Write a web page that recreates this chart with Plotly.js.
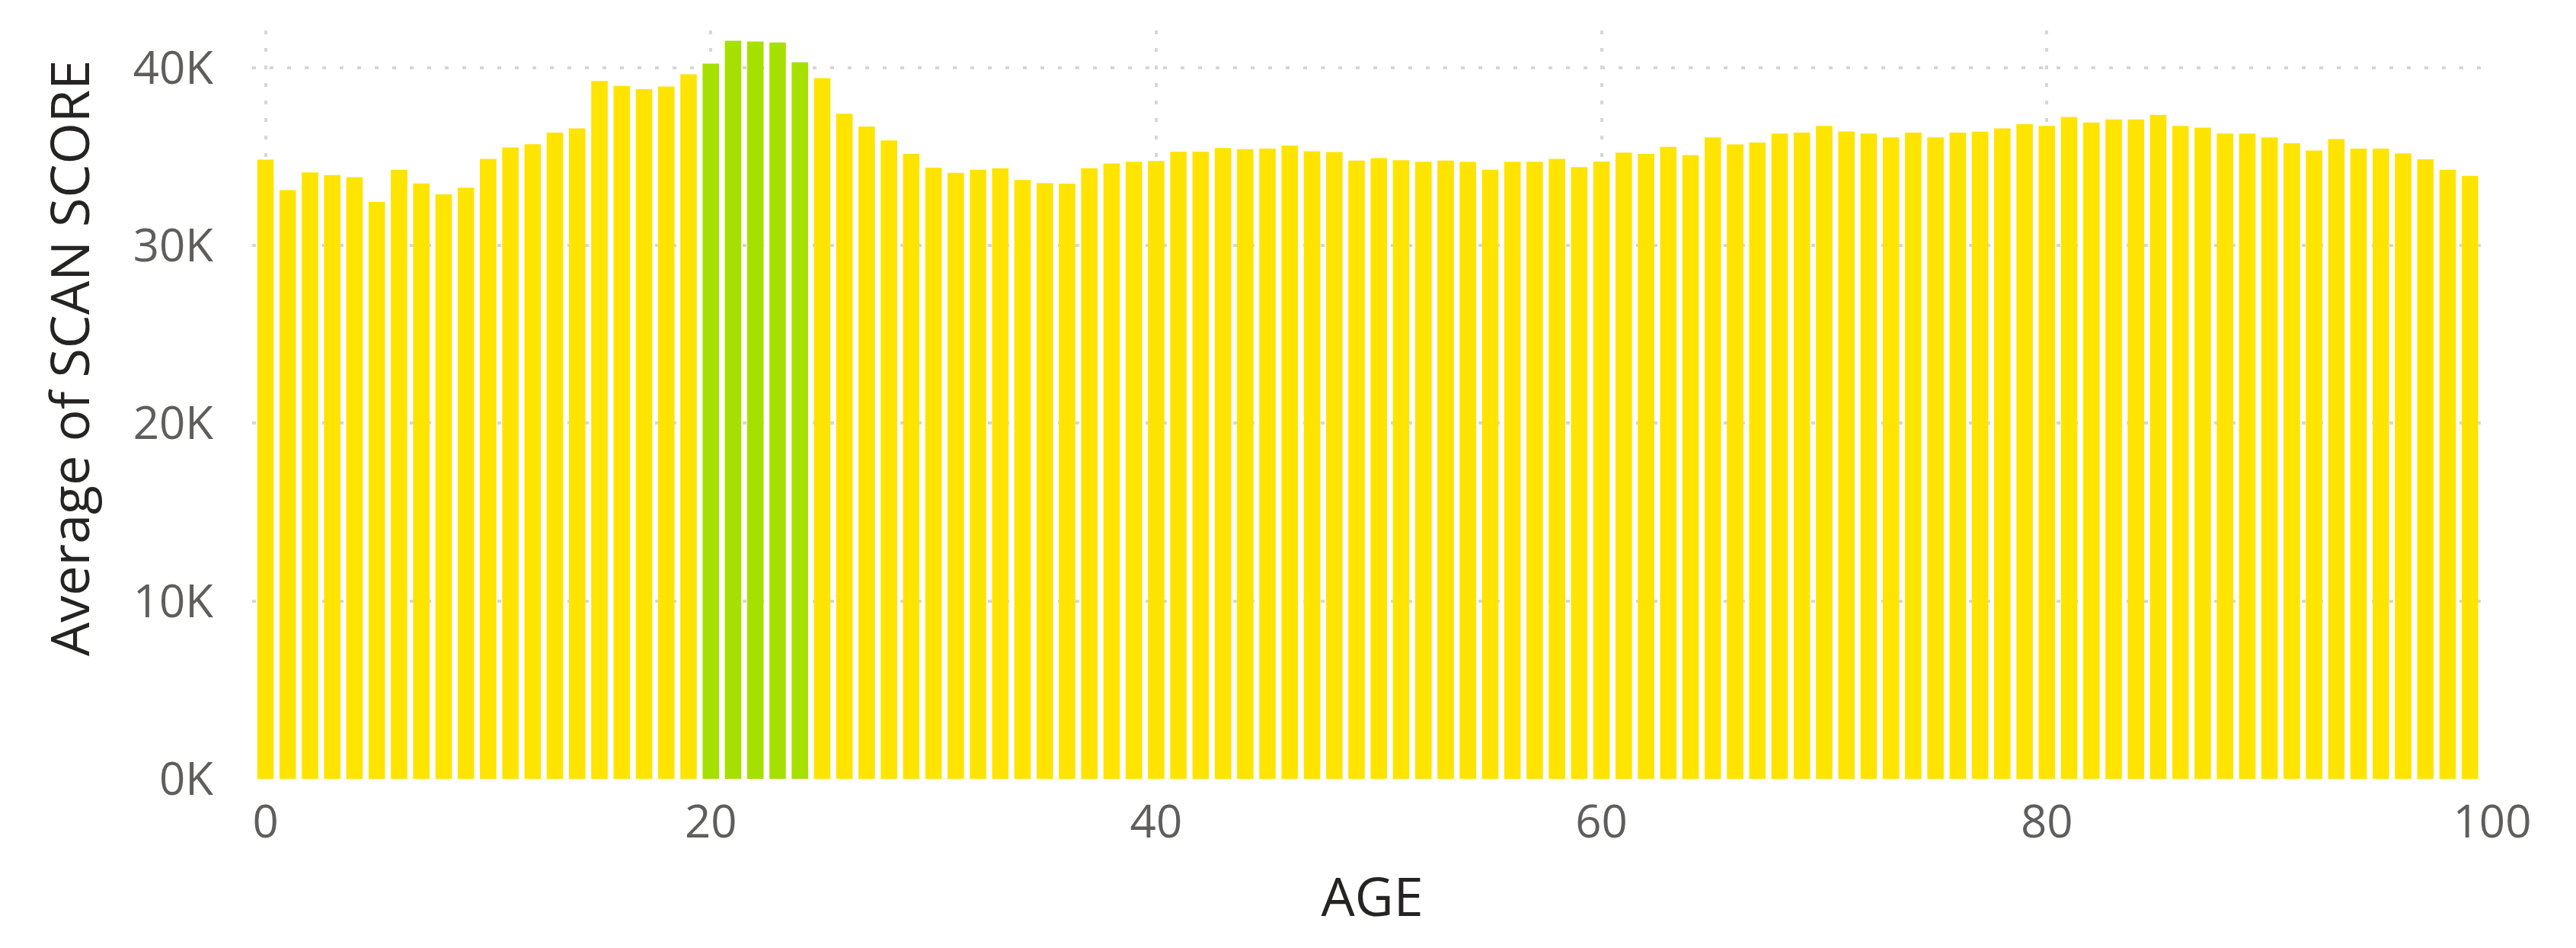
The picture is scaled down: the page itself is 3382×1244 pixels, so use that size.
<!DOCTYPE html>
<html>
<head>
<meta charset="utf-8">
<script src="https://cdn.plot.ly/plotly-3.0.1.min.js"></script>
<style>
  html, body { margin: 0; padding: 0; background: #ffffff; }
  #chart { width: 3382px; height: 1244px; }
</style>
</head>
<body>
<div id="chart"></div>
<script>
// ages 0..99 and the average scan score
const ages = [
   0,  1,  2,  3,  4,  5,  6,  7,  8,  9,
  10, 11, 12, 13, 14, 15, 16, 17, 18, 19,
  20, 21, 22, 23, 24, 25, 26, 27, 28, 29,
  30, 31, 32, 33, 34, 35, 36, 37, 38, 39,
  40, 41, 42, 43, 44, 45, 46, 47, 48, 49,
  50, 51, 52, 53, 54, 55, 56, 57, 58, 59,
  60, 61, 62, 63, 64, 65, 66, 67, 68, 69,
  70, 71, 72, 73, 74, 75, 76, 77, 78, 79,
  80, 81, 82, 83, 84, 85, 86, 87, 88, 89,
  90, 91, 92, 93, 94, 95, 96, 97, 98, 99
];
const avgScanScore = [
  34830, 33120, 34120, 33970, 33850, 32450, 34260, 33490, 32880, 33260,
  34880, 35520, 35700, 36350, 36590, 39260, 38980, 38800, 38950, 39630,
  40230, 41520, 41480, 41420, 40310, 39420, 37420, 36700, 35920, 35160,
  34380, 34090, 34260, 34350, 33690, 33520, 33480, 34350, 34620, 34710,
  34760, 35280, 35280, 35490, 35420, 35450, 35630, 35310, 35260, 34780,
  34920, 34800, 34710, 34780, 34710, 34260, 34710, 34710, 34880, 34420,
  34730, 35230, 35160, 35550, 35090, 36090, 35690, 35800, 36300, 36350,
  36730, 36420, 36300, 36090, 36350, 36090, 36350, 36410, 36590, 36830,
  36730, 37230, 36920, 37090, 37090, 37350, 36730, 36630, 36300, 36300,
  36090, 35760, 35350, 35990, 35450, 35450, 35190, 34850, 34260, 33920
];
// ages drawn in the highlight colour
const highlightAges = [20, 21, 22, 23, 24];

const yTickVals = [0, 10000, 20000, 30000, 40000];
const yTickLabels = ['0K', '10K', '20K', '30K', '40K'];
const yTitle = 'Average of SCAN SCORE';
const xTitle = 'AGE';

const yellow = '#FFE400';
const green = '#A6E000';
const barColors = ages.map(a => highlightAges.includes(a) ? green : yellow);

const data = [{
  type: 'bar',
  x: ages,
  y: avgScanScore,
  marker: { color: barColors, line: { width: 0 } },
  hoverinfo: 'x+y',
}];

const fontFam = '"Open Sans", "Noto Sans", sans-serif';
const tickFont = { family: fontFam, size: 60, color: '#605E5C' };
const titleFont = { family: fontFam, size: 70, color: '#252423' };

const layout = {
  width: 3382,
  height: 1244,
  margin: { l: 331, r: 110, t: 40, b: 222, pad: 0 },
  paper_bgcolor: '#ffffff',
  plot_bgcolor: '#ffffff',
  bargap: 0.26,
  showlegend: false,
  xaxis: {
    range: [-0.6, 100],
    dtick: 20,
    tick0: 0,
    showgrid: true,
    gridcolor: '#D6D6D6',
    gridwidth: 4,
    griddash: '5px,18px',
    zeroline: false,
    showline: false,
    ticks: '',
    ticklabelstandoff: 16,
    tickfont: tickFont,
    title: { text: xTitle, font: titleFont, standoff: 36 },
  },
  yaxis: {
    range: [0, 42100],
    tickvals: yTickVals,
    ticktext: yTickLabels,
    showgrid: true,
    gridcolor: '#D6D6D6',
    gridwidth: 4,
    griddash: '5px,18px',
    zeroline: false,
    showline: false,
    ticks: '',
    ticklabelstandoff: 50,
    tickfont: tickFont,
  },
  annotations: [{
    text: yTitle,
    xref: 'paper', yref: 'paper',
    x: -0.082, y: 0.562,
    xanchor: 'center', yanchor: 'middle',
    textangle: -90,
    showarrow: false,
    font: titleFont,
  }],
};

Plotly.newPlot('chart', data, layout, { staticPlot: true });
</script>
</body>
</html>
